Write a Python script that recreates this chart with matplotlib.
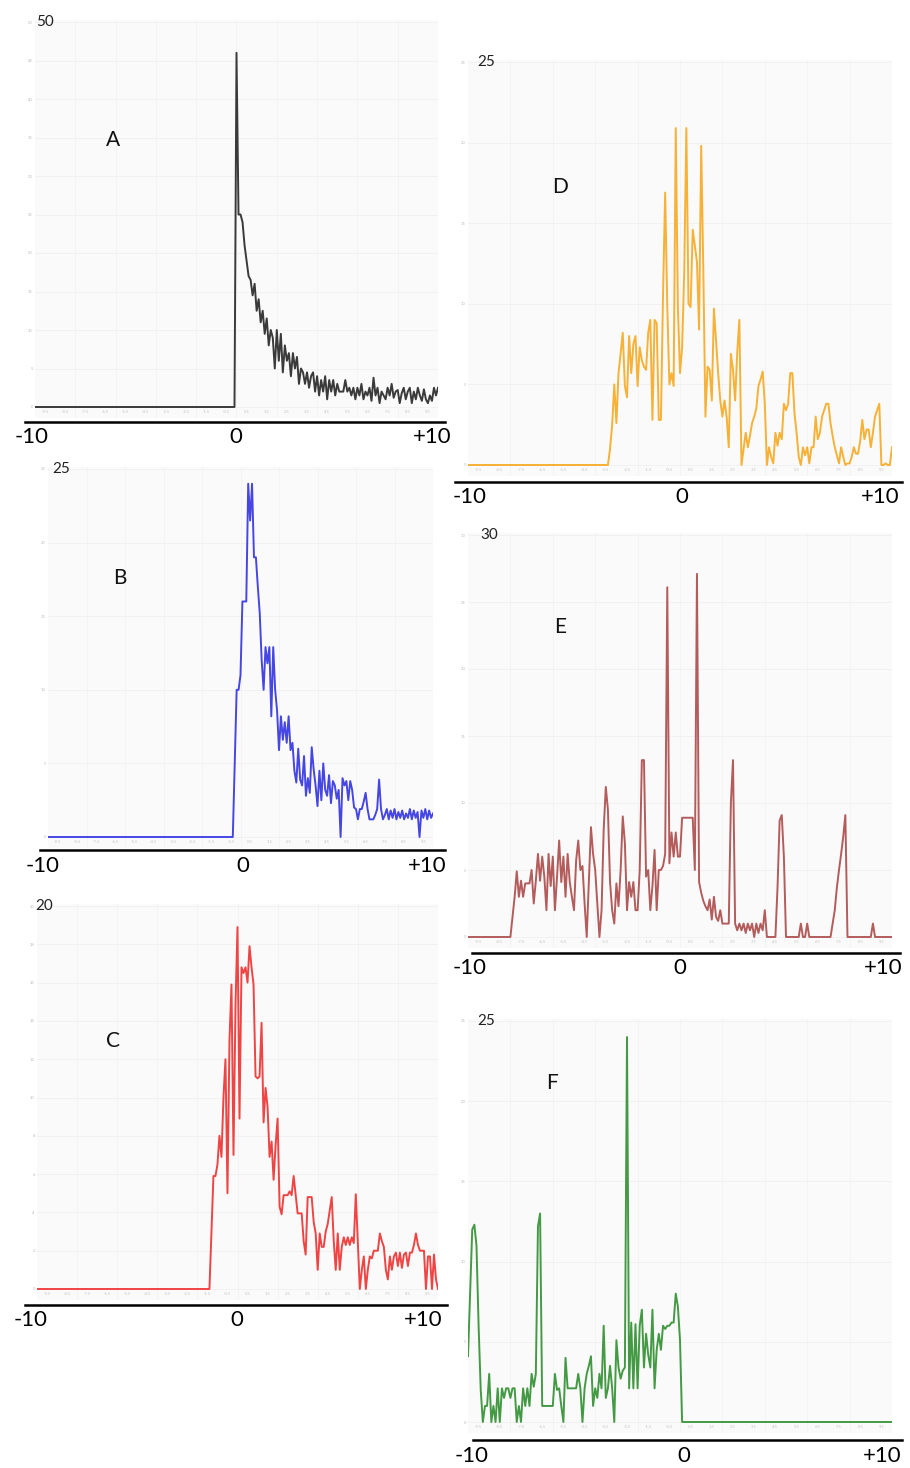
import numpy as np
import matplotlib
matplotlib.use("Agg")
import matplotlib.pyplot as plt

plt.rcParams['font.family'] = ['Lato', 'DejaVu Sans']

W, H = 910, 1468

# common sample grid, -10 .. +10 every 0.1
x_grid = np.arange(-100, 101) / 10.0

# traces: each is zero outside the listed stretch (start = x of first value)
a_start = 0.0
a_vals = [46, 25, 25, 24, 21, 19, 17, 16.5, 14.5, 16,
          12.5, 14, 11, 12.5, 9.5, 11.5, 8, 10, 9, 5,
          10, 6, 9.5, 4.5, 8, 6, 7, 4, 7, 5,
          6.5, 3, 5, 4.5, 3, 4.5, 2.5, 4, 4.5, 2,
          4, 1.5, 3.5, 2, 4, 1, 3.5, 2, 3.5, 1.5,
          3, 2, 2, 2, 3.5, 2, 2.5, 1.5, 2.5, 1,
          2.5, 1.5, 3, 1, 2, 1.5, 2.5, 0.8, 3.8, 1.5,
          2.5, 0.5, 2, 1.5, 1, 2.5, 1.5, 3, 1.2, 2,
          2.2, 0.5, 1.8, 2.5, 1, 2, 2.5, 0.5, 2, 1,
          2.5, 1.5, 0.8, 2.3, 1, 0.5, 1.5, 0.8, 2.5, 1.5, 2.5]

b_start = -0.4
b_vals = [0, 5, 10, 10, 11, 16, 16, 16, 24, 21.5,
          24, 19, 19, 17, 15.2, 12, 10, 12.9, 11.8, 12.9,
          8.2, 12.9, 10, 8.6, 5.9, 8.2, 6.6, 7.8, 6.4, 8.2,
          5.9, 6.4, 4.5, 3.7, 6, 3.9, 3.5, 5.5, 2.8, 4,
          3, 6.1, 4.6, 3.5, 2.1, 4.5, 2.5, 5, 3.2, 2.8,
          4.2, 2.3, 3.8, 3.5, 2.6, 3.2, 0, 4, 3.5, 3.8,
          2.5, 3.8, 3.2, 2, 1.9, 1.2, 1.9, 1.9, 2.4, 3,
          1.9, 1.2, 1.2, 1.2, 1.5, 1.9, 3.9, 1.9, 1.2, 1.5,
          1.9, 1.2, 1.8, 1.3, 1.9, 1.2, 1.7, 1.3, 1.8, 1.2,
          1.6, 1.3, 1.9, 1.2, 1.8, 1.3, 1.7, 0, 1.8, 1.3,
          1.9, 1.2, 1.8, 1.3, 1.6]

c_start = -1.4
c_vals = [0, 3, 5.9, 5.9, 6.5, 8, 6.9, 10, 12, 5,
          13, 15.9, 7, 14.8, 18.9, 8.9, 16.8, 16.5, 16.8, 16,
          17.9, 16.8, 15.9, 11.1, 11, 11.1, 13.9, 8.7, 10.5, 9.5,
          6.9, 7.7, 5.7, 7.5, 8.9, 4.3, 3.9, 4.9, 4.9, 4.9,
          5.1, 4.9, 5.9, 4.9, 3.95, 3.95, 3.95, 2.5, 1.8, 4.8,
          4.8, 4.8, 3.5, 2.9, 1.0, 2.9, 2.2, 2.2, 3.0, 3.4,
          4.1, 4.8, 2.5, 1.0, 2.9, 1.0, 2.2, 2.7, 2.3, 2.7,
          2.3, 2.7, 2.4, 4.95, 2.5, 0, 1.0, 1.7, 0, 1.0,
          1.7, 1.6, 2.0, 2.0, 2.0, 2.9, 2.5, 2.2, 1.0, 0.5,
          1.7, 1.0, 1.7, 1.9, 1.2, 1.9, 1.1, 1.8, 1.9, 1.2,
          1.9, 1.9, 2.3, 2.9, 2.3, 2.0, 2.0, 2.0, 0, 1.7,
          1.7, 0, 1.8, 0.5, 0]

d_start = -3.4
d_vals = [0, 1, 2.5, 5, 2.6, 5.7, 6.9, 8.2, 4.9, 4.2,
          8, 5.7, 7.5, 8, 4.9, 7.3, 6.5, 6.1, 5.9, 8.2,
          9.0, 2.8, 9.0, 8.8, 2.8, 2.8, 10.6, 16.9, 9.8, 5,
          5.7, 4.9, 20.9, 9.8, 5.7, 7.3, 12, 20.9, 10, 9.8,
          14.6, 13.6, 12.6, 8.4, 19.8, 12, 3, 6.1, 5.9, 4,
          9.7, 7.7, 5.7, 4, 3, 4, 3, 1.1, 6.9, 5.9,
          4, 7, 9.0, 0, 1, 2, 1.1, 1.8, 2.6, 3,
          3.5, 4.9, 5.3, 5.8, 3.8, 0, 1.1, 0.5, 0.1, 2,
          1.2, 2, 1.6, 3.8, 3.4, 3.8, 5.7, 5.7, 3.2, 2,
          0.5, 0, 1.1, 0.6, 1.1, 0.1, 1.1, 1.1, 3, 1.6,
          2, 3, 3.4, 3.8, 3.8, 2.6, 1.8, 1.1, 0.6, 0.1,
          1.1, 0.5, 0, 0.1, 0.1, 0.5, 1.1, 0.7, 0.7, 1.5,
          2.8, 1.6, 2.2, 2.2, 1.1, 2, 3, 3.4, 3.8, 0,
          0, 0.1, 0, 0, 1.1]

e_start = -8.0
e_vals = [0, 1.5, 3.0, 4.9, 3.0, 4.2, 3.0, 4.0, 4.0, 4.0,
          5.0, 2.5, 4.2, 6.2, 4.2, 6.0, 4.5, 2.0, 6.2, 3.8,
          6.0, 2.0, 4.5, 7.2, 4.1, 6.0, 3.0, 6.2, 4.1, 3.0,
          2.0, 5.7, 7.2, 5.0, 5.3, 2.5, 0, 4.1, 8.2, 6.2,
          5.0, 2.5, 0, 2.0, 8.0, 11.2, 9.5, 4.1, 2.0, 1.0,
          4.0, 2.3, 5.0, 9.0, 7.0, 2.0, 4.1, 3.0, 4.1, 2.0,
          2.0, 5.0, 13.2, 13.2, 4.5, 5.0, 2.0, 3.8, 6.5, 2.0,
          5.0, 5.0, 5.3, 6.2, 26.1, 5.5, 7.8, 6.0, 7.8, 6.0,
          6.0, 8.9, 8.9, 8.9, 8.9, 8.9, 8.9, 5.0, 27.1, 4.1,
          3.3, 2.7, 2.3, 2.0, 2.8, 1.3, 3.0, 1.5, 1.2, 2.0,
          1.0, 1.0, 1.0, 1.0, 10, 13.2, 1.0, 0.5, 1.0, 0.5,
          1.0, 0.3, 1.0, 0.5, 1.0, 0, 1.0, 0.3, 1.0, 0.5,
          2.0, 0, 0, 0, 0, 0, 3.7, 8.7, 9.1, 6.0,
          0, 0, 0, 0, 0, 0, 0, 1.0, 0, 0,
          1.0, 0, 0, 0, 0, 0, 0, 0, 0, 0,
          0, 0, 1.0, 2.0, 3.7, 5.0, 6.2, 7.5, 9.1, 0,
          0, 0, 0, 0, 0, 0, 0, 0, 0, 0,
          0, 1.0, 0, 0, 0, 0, 0, 0, 0, 0, 0]

f_start = -10.0
f_vals = [4.1, 8, 12, 12.3, 11, 6, 2, 0, 1, 1,
          3, 0, 1, 0, 2.1, 0, 2.1, 1.5, 2.1, 2.1,
          1.5, 2.1, 2.1, 0, 1.0, 0, 2.1, 1.0, 2.1, 1.0,
          3.0, 2.2, 3.0, 12.2, 13, 1.0, 1.0, 1.0, 1.0, 1.0,
          1.0, 3.0, 2.0, 2.1, 1.0, 0, 4.0, 2.1, 2.1, 2.1,
          2.1, 2.1, 3.0, 2.1, 0, 2.1, 3.0, 3.5, 4.1, 1.0,
          2.1, 1.5, 3.0, 2.1, 6.0, 1.5, 2.1, 3.5, 2.1, 0,
          5.1, 3.4, 2.7, 3.2, 3.4, 24, 2.1, 6.2, 2.1, 6.1,
          2.1, 6.0, 7.0, 3.4, 5.5, 4.2, 3.4, 7.0, 2.1, 4.5,
          5.5, 4.5, 6.0, 5.8, 6.0, 6.0, 6.2, 6.2, 8.0, 7.2,
          5.1, 0]

# axis annotations
x_main_labels = ["-10", "0", "+10"]
fine_ticks = np.arange(-9.5, 10, 1.0)          # the tiny grey labels along the bottom
fine_labels = [f"{v:g}" for v in fine_ticks]

# layout in pixels: axes box (l, t, r, b), rows of y=0 and y=ymax,
# black rule (x0, x1, y), centres of -10/0/+10 labels, letter position
panels = [
    dict(key="A", start=a_start, vals=a_vals, ymax=50, ystep=5, color="#3a3a3a",
         box=(35, 20, 438, 418), rows=(407, 22), rule=(25, 445, 422),
         labx=(32, 236, 432), laby=437, letter=(113, 140), topdx=1),
    dict(key="B", start=b_start, vals=b_vals, ymax=25, ystep=5, color="#4646e4",
         box=(48, 467, 433, 848), rows=(837, 469), rule=(40, 445, 850),
         labx=(43, 243, 427), laby=866, letter=(120, 578), topdx=4),
    dict(key="C", start=c_start, vals=c_vals, ymax=20, ystep=2, color="#f04444",
         box=(37, 904, 438, 1300), rows=(1289, 906), rule=(25, 447, 1305),
         labx=(31, 237, 423), laby=1320, letter=(113, 1041), topdx=-2),
    dict(key="D", start=d_start, vals=d_vals, ymax=25, ystep=5, color="#f6b136",
         box=(468, 60, 892, 476), rows=(465, 62), rule=(455, 902, 482),
         labx=(470, 682, 880), laby=497, letter=(560, 187), topdx=9),
    dict(key="E", start=e_start, vals=e_vals, ymax=30, ystep=5, color="#b45c5c",
         box=(468, 533, 892, 948), rows=(937, 535), rule=(472, 900, 953),
         labx=(470, 680, 883), laby=968, letter=(560, 627), topdx=12),
    dict(key="F", start=f_start, vals=f_vals, ymax=25, ystep=5, color="#449a44",
         box=(468, 1019, 892, 1433), rows=(1422, 1021), rule=(473, 902, 1440),
         labx=(472, 684, 882), laby=1456, letter=(552, 1083), topdx=9),
]

fig = plt.figure(figsize=(W / 100, H / 100), dpi=100, facecolor="white")

for p in panels:
    l, t, r, b = p["box"]
    ax = fig.add_axes([l / W, 1 - b / H, (r - l) / W, (b - t) / H])
    ax.set_facecolor("#fafafa")

    zero_row, top_row = p["rows"]
    ppu = (zero_row - top_row) / p["ymax"]
    ax.set_xlim(-10, 10)
    ax.set_ylim(-(b - zero_row) / ppu, p["ymax"] + (top_row - t) / ppu)

    y = np.zeros_like(x_grid)
    i0 = int(round((p["start"] + 10) * 10))
    y[i0:i0 + len(p["vals"])] = p["vals"]
    ax.plot(x_grid, y, color=p["color"], lw=1.4, zorder=3)

    # faint ticks / grid like the original software
    yt = np.arange(0, p["ymax"] + 0.1, p["ystep"])
    ax.set_yticks(yt)
    ax.set_yticklabels([f"{v:g}" for v in yt])
    ax.set_xticks(fine_ticks)
    ax.set_xticklabels(fine_labels)
    ax.set_xticks(np.arange(-8, 9, 2), minor=True)
    ax.tick_params(axis="y", labelsize=3, colors="#bdbdbd", length=0, pad=1.5)
    ax.tick_params(axis="x", which="major", labelsize=3, colors="#c4c4c4", length=0, pad=-6)
    ax.tick_params(axis="x", which="minor", length=0)
    ax.grid(True, axis="y", color="#f0f0f0", lw=0.6, zorder=0)
    ax.grid(True, axis="x", which="minor", color="#f2f2f2", lw=0.6, zorder=0)
    for s in ax.spines.values():
        s.set_visible(False)

    # max value in the top-left corner
    ax.annotate(str(p["ymax"]), xy=(-10, p["ymax"]), xytext=(p["topdx"], 0),
                textcoords="offset pixels", ha="left", va="center",
                fontsize=11, color="#222222")

    # black rule and -10 / 0 / +10
    x0, x1, ry = p["rule"]
    fig.add_artist(plt.Line2D([x0 / W, x1 / W], [1 - ry / H, 1 - ry / H],
                              color="black", lw=1.8, transform=fig.transFigure))
    for lx, s in zip(p["labx"], x_main_labels):
        fig.text(lx / W, 1 - p["laby"] / H, s, ha="center", va="center",
                 fontsize=16, color="black")

    lx, ly = p["letter"]
    fig.text(lx / W, 1 - ly / H, p["key"], ha="center", va="center",
             fontsize=15, color="#111111")

plt.savefig("out.png", dpi=100, facecolor="white")
